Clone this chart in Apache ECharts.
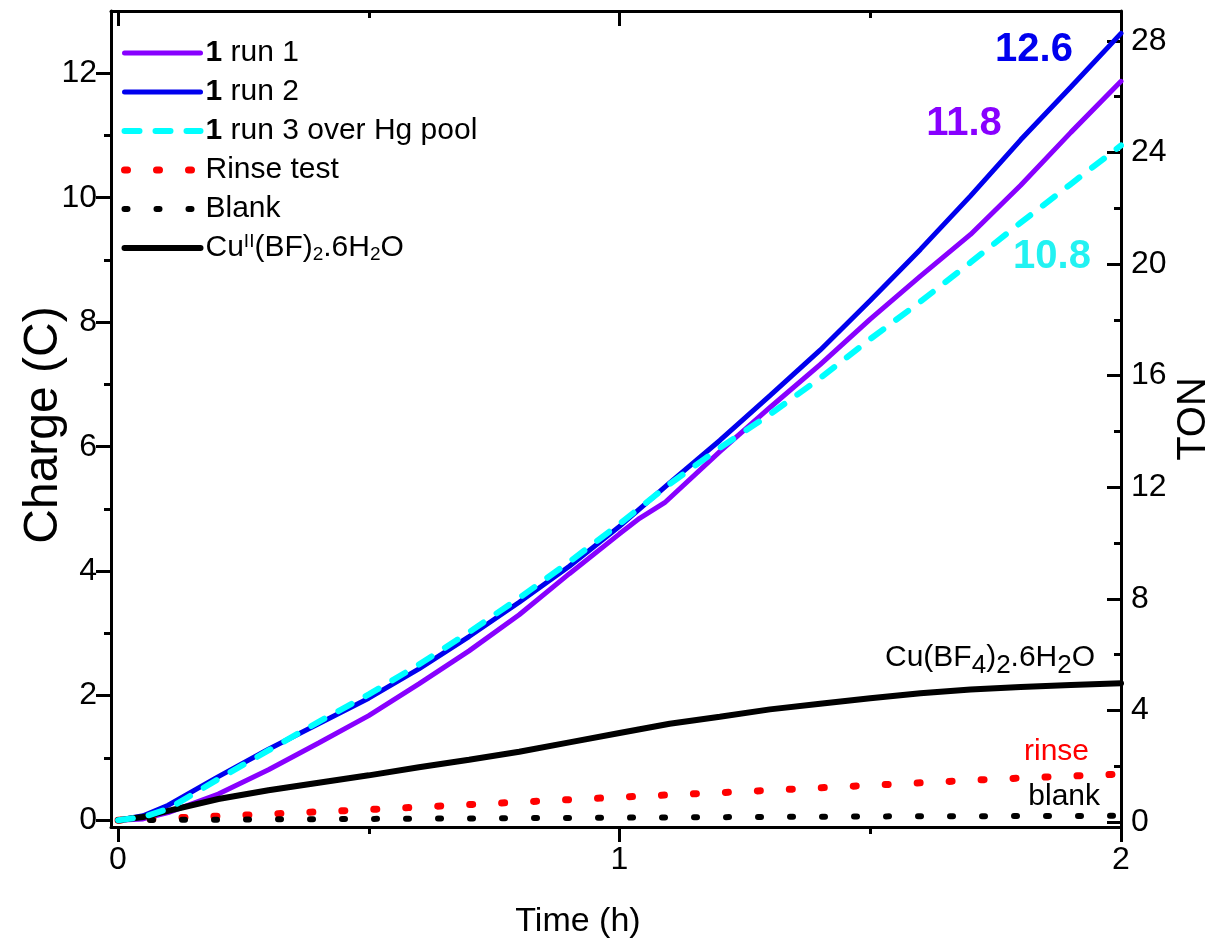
<!DOCTYPE html>
<html lang="en">
<head>
<meta charset="UTF-8">
<title>Charge vs time</title>
<script src="https://cdn.jsdelivr.net/npm/echarts@6/dist/echarts.min.js"></script>
<style>
    html, body { margin: 0; padding: 0; background: #fff; }
    #main { width: 1217px; height: 946px; }
</style>
</head>
<body>
<div id="main"></div>
<script>
var time = [0, 0.05, 0.1, 0.2, 0.3, 0.4, 0.5, 0.6, 0.7, 0.8, 0.9, 1.0, 1.1, 1.2, 1.3, 1.4, 1.5, 1.6, 1.7, 1.8, 1.9, 2.0];
var run2 = [0, 0.07, 0.24, 0.70, 1.14, 1.55, 1.96, 2.43, 2.95, 3.50, 4.08, 4.72, 5.42, 6.10, 6.82, 7.55, 8.35, 9.17, 10.03, 10.93, 11.78, 12.64];
var run3 = [0, 0.05, 0.18, 0.66, 1.12, 1.58, 2.02, 2.50, 3.02, 3.57, 4.15, 4.76, 5.40, 5.98, 6.52, 7.10, 7.73, 8.33, 8.96, 9.60, 10.22, 10.84];
var cuSalt = [0, 0.05, 0.15, 0.34, 0.48, 0.60, 0.72, 0.85, 0.97, 1.10, 1.25, 1.40, 1.55, 1.66, 1.78, 1.87, 1.96, 2.04, 2.10, 2.14, 2.17, 2.20];

var timeRun1 = [0, 0.05, 0.1, 0.2, 0.3, 0.4, 0.5, 0.6, 0.7, 0.8, 0.9, 1.0, 1.04, 1.09, 1.2, 1.3, 1.4, 1.5, 1.6, 1.7, 1.8, 1.9, 2.0];
var run1 = [0, 0.02, 0.12, 0.42, 0.81, 1.24, 1.68, 2.19, 2.72, 3.30, 3.96, 4.60, 4.85, 5.10, 5.92, 6.63, 7.32, 8.05, 8.74, 9.41, 10.20, 11.05, 11.87];

var timeCtrl = [0, 0.25, 0.5, 0.75, 1.0, 1.25, 1.5, 1.75, 2.0];
var rinse = [0, 0.08, 0.17, 0.27, 0.37, 0.46, 0.56, 0.66, 0.74];
var blank = [0, 0.01, 0.02, 0.03, 0.04, 0.05, 0.06, 0.065, 0.07];

// axis ticks
var timeTicks = [0, 1, 2];
var timeMinor = [0.5, 1.5];
var chargeTicks = [0, 2, 4, 6, 8, 10, 12];
var chargeMinor = [1, 3, 5, 7, 9, 11];
var tonTicks = [0, 4, 8, 12, 16, 20, 24, 28];
var tonMinor = [2, 6, 10, 14, 18, 22, 26];

var seriesNames = ['1 run 1', '1 run 2', '1 run 3 over Hg pool', 'Rinse test', 'Blank', 'CuII(BF)2.6H2O'];
var legendText = {
    '1 run 1': '{b|1} run 1',
    '1 run 2': '{b|1} run 2',
    '1 run 3 over Hg pool': '{b|1} run 3 over Hg pool',
    'Rinse test': 'Rinse test',
    'Blank': 'Blank',
    'CuII(BF)2.6H2O': 'Cu{sup|II}(BF){sub|2}.6H{sub|2}O'
};

var PURPLE = '#8800FF', BLUE = '#0000EE', CYAN = '#00FFFF', RED = '#FF0000', BLACK = '#000000';
var styles = [
    { color: PURPLE, width: 5, type: 'solid', cap: 'round' },
    { color: BLUE, width: 5, type: 'solid', cap: 'round' },
    { color: CYAN, width: 6, type: [15, 16], cap: 'round' },
    { color: RED, width: 7, type: [3, 29], cap: 'round' },
    { color: BLACK, width: 6, type: [3, 29], cap: 'round' },
    { color: BLACK, width: 6, type: 'solid', cap: 'round' }
];

function pairs(xs, ys) {
    var out = [];
    for (var i = 0; i < xs.length; i++) out.push([xs[i], ys[i]]);
    return out;
}

var FONT = 'Liberation Sans';
var X_MIN = -0.014, X_MAX = 2.0;
var C_MIN = -0.11, C_MAX = 13.0;
var T_MIN = -0.18, T_MAX = 29.07;
var axisLine = { show: true, onZero: false, lineStyle: { color: '#000', width: 3 } };
var noLine = { show: false, onZero: false };

var myChart = echarts.init(document.getElementById('main'));

var legendData = seriesNames.map(function (n, i) {
    return { name: n, lineStyle: styles[i], itemStyle: { opacity: 0 } };
});

var option = {
    backgroundColor: '#fff',
    animation: false,
    grid: [
        { left: 111, right: 96, top: 11, bottom: 119, outerBoundsMode: 'none', containLabel: false },
        { left: 111, right: 96, top: 11, bottom: 119, outerBoundsMode: 'none', containLabel: false }
    ],
    legend: {
        orient: 'vertical',
        left: 121,
        top: 37,
        padding: 0,
        itemWidth: 76,
        itemHeight: 14,
        itemGap: 7,
        data: legendData,
        formatter: function (name) { return legendText[name]; },
        textStyle: {
            fontFamily: FONT, fontSize: 30, color: '#000', lineHeight: 32,
            rich: {
                b: { fontFamily: FONT, fontSize: 30, fontWeight: 'bold', lineHeight: 32 },
                sup: { fontFamily: FONT, fontSize: 19, verticalAlign: 'top', lineHeight: 32 },
                sub: { fontFamily: FONT, fontSize: 19, verticalAlign: 'bottom', lineHeight: 32 }
            }
        }
    },
    xAxis: [
        {
            gridIndex: 0, type: 'value', position: 'bottom', min: X_MIN, max: X_MAX,
            name: 'Time (h)', nameLocation: 'middle', nameGap: 78, nameMoveOverlap: false,
            nameTextStyle: { fontFamily: FONT, fontSize: 34, color: '#000', padding: [0, 76, 0, 0] },
            axisLine: axisLine,
            axisTick: { show: true, inside: false, length: 15, customValues: timeTicks, lineStyle: { width: 3, color: '#000' } },
            axisLabel: { customValues: timeTicks, margin: 17, fontFamily: FONT, fontSize: 32, color: '#000' },
            splitLine: { show: false }
        },
        {
            gridIndex: 0, type: 'value', position: 'top', min: X_MIN, max: X_MAX,
            axisLine: axisLine,
            axisTick: { show: true, inside: true, length: 15, customValues: timeTicks, lineStyle: { width: 3, color: '#000' } },
            axisLabel: { show: false },
            splitLine: { show: false }
        },
        {
            gridIndex: 1, type: 'value', position: 'bottom', min: X_MIN, max: X_MAX,
            axisLine: noLine,
            axisTick: { show: true, inside: false, length: 7, customValues: timeMinor, lineStyle: { width: 3, color: '#000' } },
            axisLabel: { show: false },
            splitLine: { show: false }
        },
        {
            gridIndex: 1, type: 'value', position: 'top', min: X_MIN, max: X_MAX,
            axisLine: noLine,
            axisTick: { show: true, inside: true, length: 7, customValues: timeMinor, lineStyle: { width: 3, color: '#000' } },
            axisLabel: { show: false },
            splitLine: { show: false }
        }
    ],
    yAxis: [
        {
            gridIndex: 0, type: 'value', position: 'left', min: C_MIN, max: C_MAX,
            name: 'Charge (C)', nameLocation: 'middle', nameGap: 43, nameRotate: 90, nameMoveOverlap: false,
            nameTextStyle: { fontFamily: FONT, fontSize: 48, color: '#000', padding: [0, 12, 0, 0] },
            axisLine: axisLine,
            axisTick: { show: true, inside: false, length: 15, customValues: chargeTicks, lineStyle: { width: 3, color: '#000' } },
            axisLabel: { customValues: chargeTicks, margin: 14, fontFamily: FONT, fontSize: 32, color: '#000' },
            splitLine: { show: false }
        },
        {
            gridIndex: 0, type: 'value', position: 'right', min: T_MIN, max: T_MAX,
            name: 'TON', nameLocation: 'middle', nameGap: 53, nameRotate: 90, nameMoveOverlap: false,
            nameTextStyle: { fontFamily: FONT, fontSize: 40, color: '#000' },
            axisLine: axisLine,
            axisTick: { show: true, inside: true, length: 14, customValues: tonTicks, lineStyle: { width: 3, color: '#000' } },
            axisLabel: { customValues: tonTicks, margin: 10, fontFamily: FONT, fontSize: 32, color: '#000' },
            splitLine: { show: false }
        },
        {
            gridIndex: 1, type: 'value', position: 'left', min: C_MIN, max: C_MAX,
            axisLine: noLine,
            axisTick: { show: true, inside: false, length: 7, customValues: chargeMinor, lineStyle: { width: 3, color: '#000' } },
            axisLabel: { show: false },
            splitLine: { show: false }
        },
        {
            gridIndex: 1, type: 'value', position: 'right', min: T_MIN, max: T_MAX,
            axisLine: noLine,
            axisTick: { show: true, inside: true, length: 7, customValues: tonMinor, lineStyle: { width: 3, color: '#000' } },
            axisLabel: { show: false },
            splitLine: { show: false }
        }
    ],
    series: [
        { name: seriesNames[0], type: 'line', xAxisIndex: 0, yAxisIndex: 0, symbol: 'none', lineStyle: styles[0], itemStyle: { color: PURPLE }, data: pairs(timeRun1, run1) },
        { name: seriesNames[1], type: 'line', xAxisIndex: 0, yAxisIndex: 0, symbol: 'none', lineStyle: styles[1], itemStyle: { color: BLUE }, data: pairs(time, run2) },
        { name: seriesNames[2], type: 'line', xAxisIndex: 0, yAxisIndex: 0, symbol: 'none', z: 4, lineStyle: styles[2], itemStyle: { color: CYAN }, data: pairs(time, run3) },
        { name: seriesNames[3], type: 'line', xAxisIndex: 0, yAxisIndex: 0, symbol: 'none', lineStyle: styles[3], itemStyle: { color: RED }, data: pairs(timeCtrl, rinse) },
        { name: seriesNames[4], type: 'line', xAxisIndex: 0, yAxisIndex: 0, symbol: 'none', lineStyle: styles[4], itemStyle: { color: BLACK }, data: pairs(timeCtrl, blank) },
        { name: seriesNames[5], type: 'line', xAxisIndex: 0, yAxisIndex: 0, symbol: 'none', lineStyle: styles[5], itemStyle: { color: BLACK }, data: pairs(time, cuSalt) }
    ],
    graphic: [
        { type: 'text', x: 1034, y: 50, style: { text: '12.6', fill: BLUE, font: 'bold 40px "Liberation Sans"', textAlign: 'center', textVerticalAlign: 'middle' } },
        { type: 'text', x: 964, y: 124, style: { text: '11.8', fill: PURPLE, font: 'bold 40px "Liberation Sans"', textAlign: 'center', textVerticalAlign: 'middle' } },
        { type: 'text', x: 1052, y: 257, style: { text: '10.8', fill: '#22F2F2', font: 'bold 40px "Liberation Sans"', textAlign: 'center', textVerticalAlign: 'middle' } },
        {
            type: 'text', x: 885, y: 658,
            style: {
                text: 'Cu(BF{sub|4}){sub|2}.6H{sub|2}O', fill: '#000', font: '30px "Liberation Sans"',
                textAlign: 'left', textVerticalAlign: 'middle',
                rich: { sub: { fontSize: 26, fontFamily: FONT, verticalAlign: 'bottom', lineHeight: 42 } }
            }
        },
        { type: 'text', x: 1089, y: 752, style: { text: 'rinse', fill: RED, font: '30px "Liberation Sans"', textAlign: 'right', textVerticalAlign: 'middle' } },
        { type: 'text', x: 1100, y: 797, style: { text: 'blank', fill: '#000', font: '30px "Liberation Sans"', textAlign: 'right', textVerticalAlign: 'middle' } }
    ]
};

myChart.setOption(option);
</script>
</body>
</html>
